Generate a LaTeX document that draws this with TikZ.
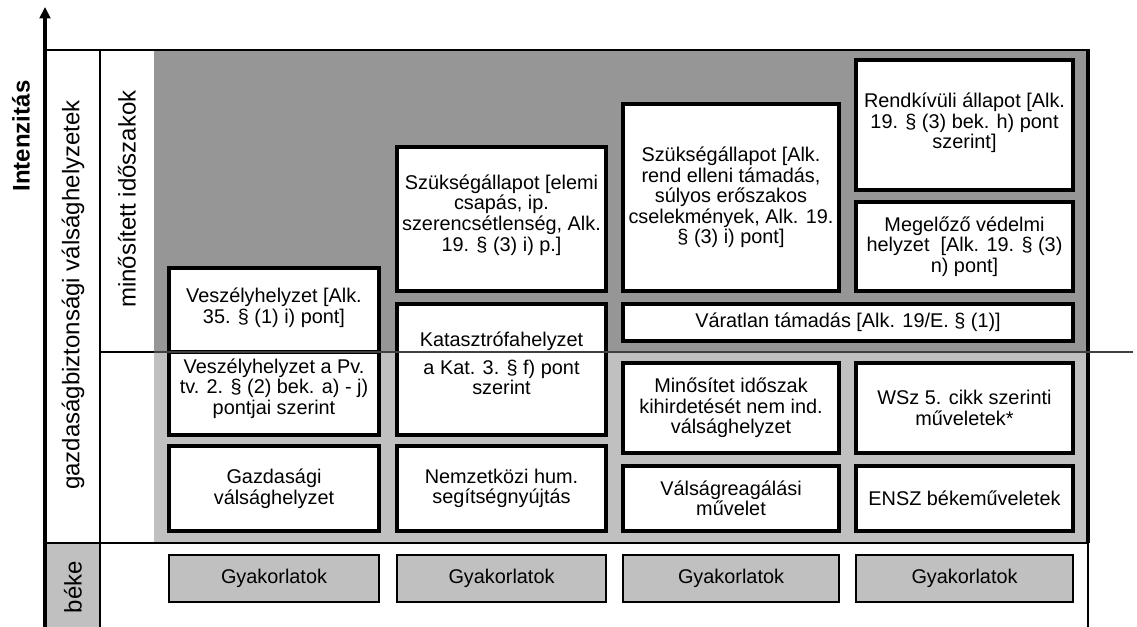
\documentclass[tikz,border=0pt]{standalone}
\usepackage{fontspec}
\setmainfont{Liberation Sans}
\usetikzlibrary{arrows.meta}
\definecolor{darkfill}{RGB}{150,150,150}
\definecolor{lightfill}{RGB}{192,192,192}
\tikzset{
  boxtext/.style={font=\fontsize{14.9pt}{15.4pt}\selectfont},
  cellbox/.style={draw=black, line width=3pt, fill=white, inner sep=0pt},
  drillbox/.style={draw=black, line width=2.2pt, fill=lightfill, inner sep=0pt},
  celltext/.style={boxtext, align=center, inner sep=0pt},
  sidelabel/.style={rotate=90, font=\fontsize{18pt}{20pt}\selectfont, inner sep=0pt},
}
% #1 style, #2 name, #3-#6 outer corners (x1,y1,x2,y2), #7 vertical text offset, #8 text
\newcommand\cell[8]{%
  \node[#1, minimum width={(#5-#3-4)*0.75pt}, minimum height={(#6-#4-4)*0.75pt}]
    (#2) at ({(#3+#5)/2},{(#4+#6)/2}) {};
  \node[celltext] (#2-t) at ([yshift={-(#7)*0.75pt}]#2.center) {#8};
}
\begin{document}
\begin{tikzpicture}[x=0.75pt,y=-0.75pt]
\useasboundingbox (0,0) rectangle (1137,627);

% shaded bands
\fill[darkfill] (154,50) rectangle (1088,352);
\fill[lightfill] (154,352) rectangle (1088,543);
\fill[lightfill] (45,543) rectangle (100,627);

% frame lines
\draw[line width=1.5pt] (45,50) -- (1088,50);
\draw[line width=2.2pt] (100,50) -- (100,627);
\draw[line width=2.2pt] (45,543) -- (1088,543);
\draw[line width=3pt] (1088,49) -- (1088,543);
\draw[line width=2pt] (1088,543) -- (1088,627);

% intensity axis
\coordinate (axbot) at (45,627);
\coordinate (axtop) at (45,7);
\draw[line width=2.4pt, -{Triangle[length=8.5pt,width=8pt]}] (axbot) -- (axtop);

% side labels
\node[sidelabel, font=\fontsize{18pt}{20pt}\selectfont\bfseries] (intens) at (21,136) {Intenzitás};
\node[sidelabel] (gbv) at (73,295) {gazdaságbiztonsági válsághelyzetek};
\node[sidelabel] (mino) at (127,199) {minősített időszakok};
\node[sidelabel] (beke) at (73,587) {béke};

% column A
\cell{cellbox}{a1}{167}{266}{381}{354}{-2}{Veszélyhelyzet [Alk.\\35. § (1) i) pont]}
\cell{cellbox}{a2}{167}{350}{381}{437}{-5}{Veszélyhelyzet a Pv.\\tv. 2. § (2) bek. a) - j)\\pontjai szerint}
\cell{cellbox}{a3}{167}{444}{381}{533}{0}{Gazdasági\\válsághelyzet}
% column B
\cell{cellbox}{b1}{395}{145}{608}{293}{-4}{Szükségállapot [elemi\\csapás, ip.\\szerencsétlenség, Alk.\\19. § (3) i) p.]}
\cell{cellbox}{b2}{395}{302}{608}{437}{-6}{Katasztrófahelyzet\\[5pt]a Kat. 3. § f) pont\\szerint}
\cell{cellbox}{b3}{395}{444}{608}{533}{0}{Nemzetközi hum.\\segítségnyújtás}
% column C
\cell{cellbox}{c1}{621}{102}{841}{293}{0}{Szükségállapot [Alk.\\rend elleni támadás,\\súlyos erőszakos\\cselekmények, Alk. 19.\\§ (3) i) pont]}
\cell{cellbox}{cd}{621}{302}{1075}{343}{0}{Váratlan támadás [Alk. 19/E. § (1)]}
\cell{cellbox}{c3}{621}{361}{841}{455}{0}{Minősítet időszak\\kihirdetését nem ind.\\válsághelyzet}
\cell{cellbox}{c4}{621}{464}{841}{533}{0}{Válságreagálási\\művelet}
% column D
\cell{cellbox}{d1}{854}{58}{1075}{192}{-2}{Rendkívüli állapot [Alk.\\19. § (3) bek. h) pont\\szerint]}
\cell{cellbox}{d2}{854}{200}{1075}{293}{0}{Megelőző védelmi\\helyzet\ \ [Alk. 19. § (3)\\n) pont]}
\cell{cellbox}{d3}{854}{361}{1075}{455}{0}{WSz 5. cikk szerinti\\műveletek*}
\cell{cellbox}{d4}{854}{464}{1075}{533}{0}{ENSZ békeműveletek}

% exercises row
\cell{drillbox}{ga}{167}{553}{381}{604}{0}{Gyakorlatok}
\cell{drillbox}{gb}{395}{553}{608}{604}{0}{Gyakorlatok}
\cell{drillbox}{gc}{621}{553}{841}{604}{0}{Gyakorlatok}
\cell{drillbox}{gd}{854}{553}{1075}{604}{0}{Gyakorlatok}

% boundary of the qualified periods, drawn over the cells
\draw[line width=2.2pt] (100,352) -- (154,352);
\draw[line width=0.8pt, black!75] (154,352) -- (1133,352);
\end{tikzpicture}
\end{document}
